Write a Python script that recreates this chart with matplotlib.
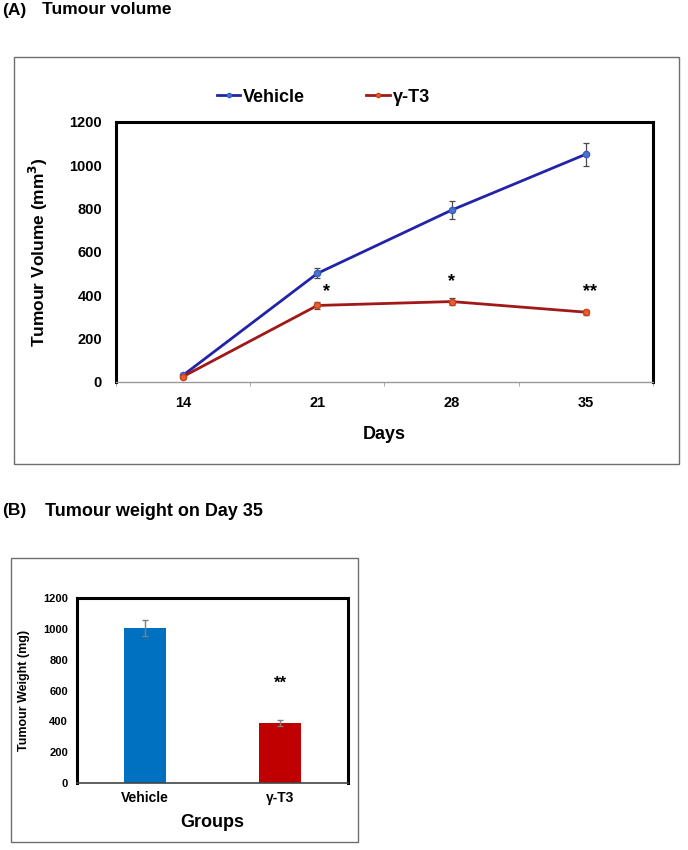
import numpy as np
import matplotlib
matplotlib.use('Agg')
import matplotlib.pyplot as plt
from matplotlib.lines import Line2D
from matplotlib.patches import Rectangle

plt.rcParams['font.family'] = ['Liberation Sans', 'DejaVu Sans']
plt.rcParams['font.weight'] = 'bold'

# Panel A data: tumour volume over time
days = ['14', '21', '28', '35']
vehicle_vol = [30, 500, 792, 1050]
vehicle_err = [8, 23, 40, 53]
gt3_vol = [24, 352, 370, 321]
gt3_err = [5, 17, 18, 12]
vol_stars = ['', '*', '*', '**']
vol_star_y = [0, 415, 461, 415]

# Panel B data: tumour weight on day 35
groups = ['Vehicle', 'γ-T3']
weight = [1005, 389]
weight_err = [50, 20]
weight_stars = ['', '**']

fig = plt.figure(figsize=(6.88, 8.5), dpi=100)

# outer grey frames
fig.patches.append(Rectangle((0.0203, 0.4541), 0.9666, 0.4788, transform=fig.transFigure,
                             fill=False, edgecolor='#6e6e6e', linewidth=1.0))
fig.patches.append(Rectangle((0.016, 0.0094), 0.5044, 0.3341, transform=fig.transFigure,
                             fill=False, edgecolor='#6e6e6e', linewidth=1.0))

# titles
fig.text(0.003, 1 - 10 / 850, '(A)', fontsize=12.5, fontweight='bold', va='center')
fig.text(42 / 688, 1 - 10 / 850, 'Tumour volume', fontsize=12.5, fontweight='bold', va='center')
fig.text(0.003, 1 - 511 / 850, '(B)', fontsize=12.5, fontweight='bold', va='center')
fig.text(45 / 688, 1 - 511 / 850, 'Tumour weight on Day 35', fontsize=13, fontweight='bold', va='center')

# ---- Panel A ----
ax = fig.add_axes([0.1686, 0.5509, 0.7805, 0.3059])
x = np.arange(len(days))
ax.errorbar(x, vehicle_vol, yerr=vehicle_err, color='#2323a8', lw=2.0, marker='o', ms=4.5,
            mfc='#4a74d0', mec='#3a5cc0', ecolor='#4a4a4a', elinewidth=0.9, capsize=2.5, capthick=0.9,
            zorder=3)
ax.errorbar(x, gt3_vol, yerr=gt3_err, color='#a01818', lw=2.0, marker='o', ms=4.5,
            mfc='#e8602a', mec='#c8401e', ecolor='#4a4a4a', elinewidth=0.9, capsize=2.5, capthick=0.9,
            zorder=3)
offs = [0, 0.07, 0, 0.03]
for i, s in enumerate(vol_stars):
    if s:
        ax.text(x[i] + offs[i], vol_star_y[i], s, ha='center', va='center', fontsize=13,
                fontweight='bold')
ax.set_xlim(-0.5, 3.5)
ax.set_ylim(0, 1200)
ax.set_yticks(range(0, 1201, 200))
ax.set_xticks(x)
ax.set_xticklabels(days)
ax.set_xticks(np.arange(-0.5, 3.6, 1), minor=True)
ax.tick_params(axis='y', length=0, pad=10, labelsize=10.5)
ax.tick_params(axis='x', which='major', length=0, pad=10, labelsize=10.5)
ax.tick_params(axis='x', which='minor', length=3, color='#999999', direction='out')
for lab in ax.get_xticklabels() + ax.get_yticklabels():
    lab.set_fontweight('bold')
for sp in ['top', 'right', 'left']:
    ax.spines[sp].set_linewidth(2.2)
    ax.spines[sp].set_color('black')
ax.spines['bottom'].set_color('#999999')
ax.spines['bottom'].set_linewidth(1.0)
ax.set_ylabel('Tumour Volume (mm$^3$)', fontsize=12.5, fontweight='bold')
ax.yaxis.set_label_coords(-0.123, 0.5)
ax.set_xlabel('Days', fontsize=13, fontweight='bold')
ax.xaxis.set_label_coords(0.5, -0.17)

handles = [Line2D([], [], color='#2323a8', lw=2.0, marker='o', ms=3, mfc='#4a74d0', mec='#3a5cc0'),
           Line2D([], [], color='#a01818', lw=2.0, marker='o', ms=3, mfc='#e8602a', mec='#c8401e')]
fig.legend(handles, ['Vehicle', 'γ-T3'], loc='center', bbox_to_anchor=(0.47, 1 - 97 / 850), ncol=2,
           frameon=False, handlelength=1.3, handletextpad=0.15, columnspacing=3.4,
           prop={'weight': 'bold', 'size': 13})

# ---- Panel B ----
bx = fig.add_axes([0.1119, 0.0788, 0.3939, 0.2176])
xb = np.arange(len(groups))
bx.bar(xb, weight, width=0.31, color=['#0070c0', '#c00000'], zorder=2)
bx.errorbar(xb, weight, yerr=weight_err, fmt='none', ecolor='#7f7f7f', elinewidth=1.0,
            capsize=2.5, capthick=1.0, zorder=3)
for i, s in enumerate(weight_stars):
    if s:
        bx.text(xb[i], 645, s, ha='center', va='center', fontsize=12, fontweight='bold')
bx.set_xlim(-0.5, 1.5)
bx.set_ylim(0, 1200)
bx.set_yticks(range(0, 1201, 200))
bx.set_xticks(xb)
bx.set_xticklabels(groups)
bx.tick_params(axis='y', length=0, pad=6.5, labelsize=8)
bx.tick_params(axis='x', length=0, pad=6, labelsize=10)
for lab in bx.get_xticklabels() + bx.get_yticklabels():
    lab.set_fontweight('bold')
for sp in ['top', 'right', 'left']:
    bx.spines[sp].set_linewidth(2.2)
    bx.spines[sp].set_color('black')
bx.spines['bottom'].set_color('#444444')
bx.spines['bottom'].set_linewidth(1.2)
bx.set_ylabel('Tumour Weight (mg)', fontsize=9, fontweight='bold')
bx.yaxis.set_label_coords(-0.175, 0.5)
bx.set_xlabel('Groups', fontsize=13, fontweight='bold')
bx.xaxis.set_label_coords(0.5, -0.17)

fig.savefig('out.png', dpi=100)
